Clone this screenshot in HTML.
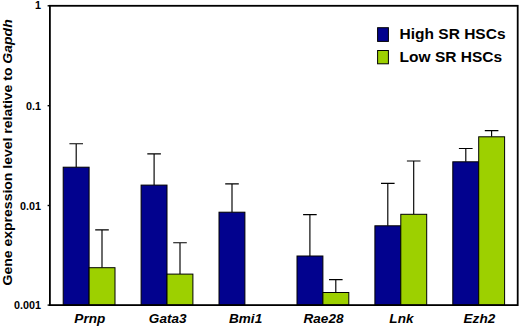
<!DOCTYPE html>
<html><head><meta charset="utf-8"><title>chart</title>
<style>
html,body{margin:0;padding:0;background:#fff;}
svg{display:block;font-family:"Liberation Sans",sans-serif;font-weight:bold;fill:#000;}
</style></head><body>
<svg width="520" height="328" viewBox="0 0 520 328">
<rect x="0" y="0" width="520" height="328" fill="#fff"/>

<path d="M76.2 167.2V143.7M69.4 143.7H83.0" stroke="#000" stroke-width="1.15" fill="none"/>
<path d="M102.0 267.7V229.8M95.2 229.8H108.8" stroke="#000" stroke-width="1.15" fill="none"/>
<path d="M154.1 185.1V153.8M147.3 153.8H160.9" stroke="#000" stroke-width="1.15" fill="none"/>
<path d="M180.0 274.1V242.7M173.2 242.7H186.8" stroke="#000" stroke-width="1.15" fill="none"/>
<path d="M232.0 212.2V183.8M225.2 183.8H238.8" stroke="#000" stroke-width="1.15" fill="none"/>
<path d="M309.9 256.0V214.6M303.1 214.6H316.7" stroke="#000" stroke-width="1.15" fill="none"/>
<path d="M335.8 292.5V279.6M329.0 279.6H342.6" stroke="#000" stroke-width="1.15" fill="none"/>
<path d="M387.8 225.8V183.4M381.0 183.4H394.6" stroke="#000" stroke-width="1.15" fill="none"/>
<path d="M413.7 214.3V161.0M406.9 161.0H420.5" stroke="#000" stroke-width="1.15" fill="none"/>
<path d="M465.8 161.8V148.5M458.9 148.5H472.6" stroke="#000" stroke-width="1.15" fill="none"/>
<path d="M491.6 136.8V130.6M484.8 130.6H498.4" stroke="#000" stroke-width="1.15" fill="none"/>
<rect x="63.2" y="167.2" width="25.9" height="137.9" fill="#02028e" stroke="#000" stroke-width="1"/>
<rect x="89.1" y="267.7" width="25.9" height="37.4" fill="#9dd000" stroke="#000" stroke-width="1"/>
<rect x="141.1" y="185.1" width="25.9" height="120.0" fill="#02028e" stroke="#000" stroke-width="1"/>
<rect x="167.0" y="274.1" width="25.9" height="31.0" fill="#9dd000" stroke="#000" stroke-width="1"/>
<rect x="219.0" y="212.2" width="25.9" height="92.9" fill="#02028e" stroke="#000" stroke-width="1"/>
<rect x="297.0" y="256.0" width="25.9" height="49.1" fill="#02028e" stroke="#000" stroke-width="1"/>
<rect x="322.9" y="292.5" width="25.9" height="12.6" fill="#9dd000" stroke="#000" stroke-width="1"/>
<rect x="374.9" y="225.8" width="25.9" height="79.3" fill="#02028e" stroke="#000" stroke-width="1"/>
<rect x="400.8" y="214.3" width="25.9" height="90.8" fill="#9dd000" stroke="#000" stroke-width="1"/>
<rect x="452.8" y="161.8" width="25.9" height="143.3" fill="#02028e" stroke="#000" stroke-width="1"/>
<rect x="478.7" y="136.8" width="25.9" height="168.3" fill="#9dd000" stroke="#000" stroke-width="1"/>
<rect x="49.9" y="5.8" width="467.8" height="299.3" fill="none" stroke="#000" stroke-width="1.8"/>
<path d="M47.6 5.8H50" stroke="#000" stroke-width="1.4"/>
<text transform="translate(40.9 8.8) scale(1.08 1)" font-size="10" text-anchor="end">1</text>
<path d="M47.6 105.7H50" stroke="#000" stroke-width="1.4"/>
<text transform="translate(40.9 109.9) scale(1.08 1)" font-size="10" text-anchor="end">0.1</text>
<path d="M47.6 205.5H50" stroke="#000" stroke-width="1.4"/>
<text transform="translate(40.9 209.7) scale(1.08 1)" font-size="10" text-anchor="end">0.01</text>
<path d="M47.6 305.1H50" stroke="#000" stroke-width="1.4"/>
<text transform="translate(40.9 309.3) scale(1.08 1)" font-size="10" text-anchor="end">0.001</text>
<text transform="translate(89.8 322.6) scale(1.13 1)" font-size="12" font-style="italic" text-anchor="middle">Prnp</text>
<text transform="translate(167.7 322.6) scale(1.13 1)" font-size="12" font-style="italic" text-anchor="middle">Gata3</text>
<text transform="translate(245.6 322.6) scale(1.13 1)" font-size="12" font-style="italic" text-anchor="middle">Bmi1</text>
<text transform="translate(323.5 322.6) scale(1.13 1)" font-size="12" font-style="italic" text-anchor="middle">Rae28</text>
<text transform="translate(401.4 322.6) scale(1.13 1)" font-size="12" font-style="italic" text-anchor="middle">Lnk</text>
<text transform="translate(479.4 322.6) scale(1.13 1)" font-size="12" font-style="italic" text-anchor="middle">Ezh2</text>
<text transform="translate(11.9 285.4) rotate(-90) scale(1.13 1)" font-size="12.4">Gene expression level relative to <tspan font-style="italic">Gapdh</tspan></text>
<rect x="377.6" y="27.7" width="10.8" height="13.7" fill="#02028e" stroke="#000" stroke-width="1"/>
<rect x="377.6" y="50.5" width="10.8" height="13.3" fill="#9dd000" stroke="#000" stroke-width="1"/>
<text x="399.6" y="38.5" font-size="15.5">High SR HSCs</text>
<text x="399.6" y="62.4" font-size="15.5">Low SR HSCs</text>
</svg></body></html>
